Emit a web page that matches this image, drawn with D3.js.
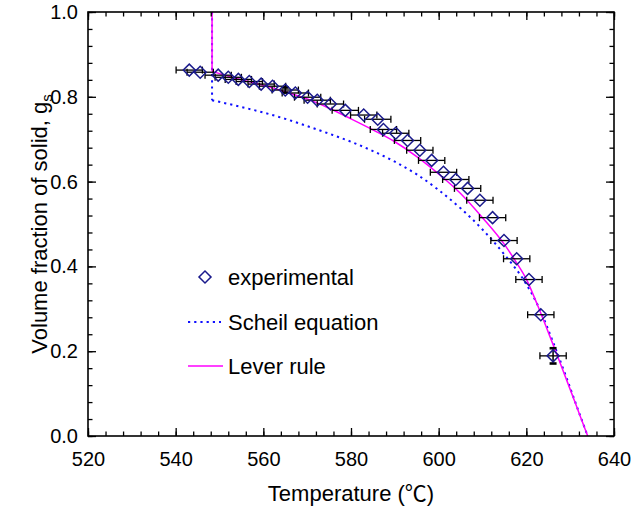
<!DOCTYPE html>
<html><head><meta charset="utf-8">
<script src="https://cdn.jsdelivr.net/npm/d3@7"></script>
<style>
body{margin:0;background:#fff}
svg{display:block}
text{font-family:"Liberation Sans",Arial,"Noto Sans CJK SC",sans-serif;fill:#000}
</style>
</head><body><svg id="c" width="635" height="508"></svg>
<script>
// ---------- data ----------
const expTemp = [543.1,545.6,549.7,552.0,554.3,556.8,559.5,562.1,565.0,567.3,570.1,572.3,575.3,578.7,582.9,586.1,587.4,590.2,592.9,595.7,598.4,601.1,603.9,606.6,609.4,612.3,614.9,617.8,620.6,623.3,626.1];
const expFrac = [0.863,0.858,0.851,0.846,0.841,0.836,0.830,0.825,0.816,0.809,0.799,0.792,0.783,0.768,0.757,0.747,0.723,0.714,0.697,0.674,0.650,0.622,0.605,0.584,0.556,0.515,0.461,0.418,0.369,0.286,0.189];
const expTempErr = 3;
const expFracErr = [0,0,0,0,0,0,0,0,0.006,0,0,0,0,0,0,0,0,0,0,0,0,0,0,0,0,0,0,0,0,0,0.018];

const leverTemp = [548.3,548.3,555,560,565,570,575,580,585,590,595,600,605,610,615,617.5,620,622.5,625,627.5,630,632,634];
const leverFrac = [1.0,0.860,0.840,0.827,0.812,0.795,0.773,0.748,0.722,0.694,0.659,0.618,0.572,0.515,0.452,0.413,0.370,0.310,0.245,0.178,0.110,0.055,0.0];

const scheilTemp = [548.3,548.3,555,560,565,570,575,580,585,590,595,600,605,610,615,620,623,626,629,632,634];
const scheilFrac = [1.0,0.792,0.776,0.763,0.748,0.731,0.713,0.694,0.672,0.647,0.617,0.580,0.537,0.487,0.428,0.358,0.300,0.224,0.142,0.056,0.0];

const xTickValues = [520,540,560,580,600,620,640];
const yTickValues = [0.0,0.2,0.4,0.6,0.8,1.0];
const xMinorStep = 4, yMinorStep = 0.04;
const legendLabels = ["experimental","Scheil equation","Lever rule"];
const xTitle = "Temperature (\u2103)";
const yTitle = "Volume fraction of solid, g";
const yTitleSub = "s";

// ---------- layout ----------
const L = 88, R = 614, T = 12, B = 436;
const svg = d3.select("#c");
const x = d3.scaleLinear().domain([520,640]).range([L,R]);
const y = d3.scaleLinear().domain([0,1]).range([B,T]);

const xMinor = d3.range(520,640.001,xMinorStep);
const yMinor = d3.range(0,1.0001,yMinorStep).map(v=>+v.toFixed(2));

svg.append("defs").append("clipPath").attr("id","clip")
  .append("rect").attr("x",L).attr("y",T).attr("width",R-L).attr("height",B-T);

// curves
const plot = svg.append("g").attr("clip-path","url(#clip)");
const lineGen = d3.line().x(d=>x(d[0])).y(d=>y(d[1]));
const curveGen = d3.line().x(d=>x(d[0])).y(d=>y(d[1])).curve(d3.curveMonotoneX);
function drawSeries(ts, gs, color, width, dash){
  const pts = ts.map((t,i)=>[t,gs[i]]);
  [lineGen(pts.slice(0,2)), curveGen(pts.slice(1))].forEach(dp=>{
    plot.append("path").attr("d",dp).attr("fill","none").attr("stroke",color)
      .attr("stroke-width",width).attr("stroke-dasharray",dash||null);
  });
}
drawSeries(scheilTemp, scheilFrac, "#1010ff", 2, "2.2,4");
drawSeries(leverTemp, leverFrac, "#ff00ff", 1.5, null);

// error bars
const eb = svg.append("g").attr("stroke","#000");
expTemp.forEach((t,i)=>{
  const g = expFrac[i];
  const x0 = x(t-expTempErr), x1 = x(t+expTempErr), yy = y(g);
  eb.append("line").attr("x1",x0).attr("x2",x1).attr("y1",yy).attr("y2",yy).attr("stroke-width",1.3);
  eb.append("line").attr("x1",x0).attr("x2",x0).attr("y1",yy-3.5).attr("y2",yy+3.5).attr("stroke-width",1.3);
  eb.append("line").attr("x1",x1).attr("x2",x1).attr("y1",yy-3.5).attr("y2",yy+3.5).attr("stroke-width",1.3);
  const fe = expFracErr[i];
  if (fe>0){
    const xx = x(t), y0 = y(g-fe), y1 = y(g+fe);
    eb.append("line").attr("x1",xx).attr("x2",xx).attr("y1",y0).attr("y2",y1).attr("stroke-width",1.5);
    eb.append("line").attr("x1",xx-3.5).attr("x2",xx+3.5).attr("y1",y0).attr("y2",y0).attr("stroke-width",2.6);
    eb.append("line").attr("x1",xx-3.5).attr("x2",xx+3.5).attr("y1",y1).attr("y2",y1).attr("stroke-width",2.6);
  }
});

// markers
const diamond = d3.symbol().type(d3.symbolSquare).size(72);
svg.append("g").selectAll("path").data(expTemp).join("path")
  .attr("d",diamond())
  .attr("transform",(t,i)=>`translate(${x(t)},${y(expFrac[i])}) rotate(45)`)
  .attr("fill","none").attr("stroke","#1a1a8c").attr("stroke-width",1.5);

// axes
const fs = 20;
function styleAxis(g){ g.select(".domain").remove(); g.selectAll("line").attr("stroke","#000").attr("stroke-width",1.3); g.selectAll("text").attr("font-size",fs).attr("font-family",null).attr("fill","#000"); }
svg.append("g").attr("transform",`translate(0,${B})`)
  .call(d3.axisBottom(x).tickValues(xMinor).tickFormat("").tickSize(-4.5).tickSizeOuter(0)).call(styleAxis);
svg.append("g").attr("transform",`translate(0,${B})`)
  .call(d3.axisBottom(x).tickValues(xTickValues).tickFormat(d3.format("d")).tickSize(-8).tickPadding(16).tickSizeOuter(0)).call(styleAxis);
svg.append("g").attr("transform",`translate(0,${T})`)
  .call(d3.axisTop(x).tickValues(xMinor).tickFormat("").tickSize(-4.5).tickSizeOuter(0)).call(styleAxis);
svg.append("g").attr("transform",`translate(0,${T})`)
  .call(d3.axisTop(x).tickValues(xTickValues).tickFormat("").tickSize(-8).tickSizeOuter(0)).call(styleAxis);
svg.append("g").attr("transform",`translate(${L},0)`)
  .call(d3.axisLeft(y).tickValues(yMinor).tickFormat("").tickSize(-4.5).tickSizeOuter(0)).call(styleAxis);
svg.append("g").attr("transform",`translate(${L},0)`)
  .call(d3.axisLeft(y).tickValues(yTickValues).tickFormat(d3.format(".1f")).tickSize(-8).tickPadding(10).tickSizeOuter(0)).call(styleAxis);
svg.append("g").attr("transform",`translate(${R},0)`)
  .call(d3.axisRight(y).tickValues(yMinor).tickFormat("").tickSize(-4.5).tickSizeOuter(0)).call(styleAxis);
svg.append("g").attr("transform",`translate(${R},0)`)
  .call(d3.axisRight(y).tickValues(yTickValues).tickFormat("").tickSize(-8).tickSizeOuter(0)).call(styleAxis);

svg.append("rect").attr("x",L).attr("y",T).attr("width",R-L).attr("height",B-T)
  .attr("fill","none").attr("stroke","#000").attr("stroke-width",1.6);

// titles
svg.append("text").attr("x",(L+R)/2).attr("y",501).attr("text-anchor","middle").attr("font-size",22).text(xTitle);
const yt = svg.append("text").attr("transform",`translate(47,${(T+B)/2}) rotate(-90)`).attr("text-anchor","middle").attr("font-size",22);
yt.append("tspan").text(yTitle);
yt.append("tspan").attr("font-size",15).attr("dy",5).text(yTitleSub);

// legend
const lg = svg.append("g");
const legY = [277,322,366];
lg.append("path").attr("d",diamond()).attr("transform",`translate(205,${legY[0]}) rotate(45)`)
  .attr("fill","none").attr("stroke","#1a1a8c").attr("stroke-width",1.5);
lg.append("line").attr("x1",188).attr("x2",221).attr("y1",legY[1]).attr("y2",legY[1])
  .attr("stroke","#1010ff").attr("stroke-width",2).attr("stroke-dasharray","2.2,4");
lg.append("line").attr("x1",188).attr("x2",223).attr("y1",legY[2]).attr("y2",legY[2])
  .attr("stroke","#ff00ff").attr("stroke-width",1.5);
legendLabels.forEach((s,i)=>{
  lg.append("text").attr("x",228).attr("y",legY[i]).attr("dy","0.35em").attr("font-size",22).text(s);
});
</script>
</body></html>
